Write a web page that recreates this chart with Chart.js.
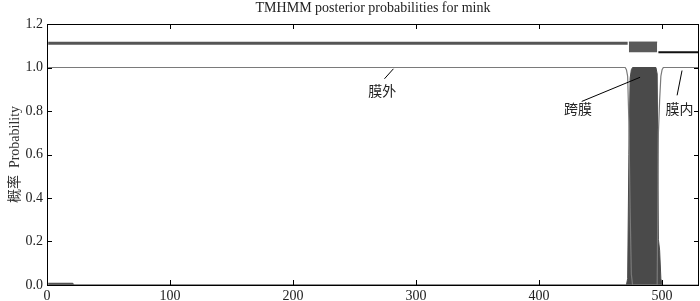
<!DOCTYPE html>
<html>
<head>
<meta charset="utf-8">
<script src="https://cdn.jsdelivr.net/npm/chart.js@4.4.1/dist/chart.umd.min.js"></script>
<style>
  html, body { margin: 0; padding: 0; background: #fff; }
</style>
</head>
<body>
<canvas id="tmhmm" width="700" height="301"></canvas>
<script>
// residue positions and posterior probabilities
const tmPos = [1, 21, 22, 471, 472, 473, 474, 475, 476, 495, 496, 497, 498, 499, 500];
const tmVal = [0.008, 0.008, 0, 0, 0.03, 0.6, 0.95, 0.99, 1.0, 1.0, 0.97, 0.21, 0.16, 0.03, 0];

const outsidePos = [1, 470, 471, 472, 473, 474, 475, 476, 530];
const outsideVal = [1.0, 1.0, 0.99, 0.96, 0.75, 0.35, 0.05, 0, 0];

const insidePos = [1, 496, 497, 498, 499, 500, 501, 530];
const insideVal = [0, 0, 0.7, 0.85, 0.96, 0.99, 1.0, 1.0];

// predicted topology bar along the top
const topOutsidePos = [1, 472];
const topOutsideVal = [1.111, 1.111];
const topHelixPos = [473, 496];
const topHelixVal = [1.117, 1.117];
const topHelixBase = 1.07;
const topInsidePos = [497, 530];
const topInsideVal = [1.07, 1.07];

const xTicks = [0, 100, 200, 300, 400, 500];
const yTicks = [0, 0.2, 0.4, 0.6, 0.8, 1.0, 1.2];

// annotation labels: text position and leader line ends, in data units
const notes = [
    { text: '膜外', x: 272.5, y: 0.885, from: [274.3, 0.948], to: [281.6, 0.994] },
    { text: '跨膜', x: 431.7, y: 0.803, from: [434.7, 0.844], to: [482.1, 0.955] },
    { text: '膜内', x: 514.2, y: 0.803, from: [512.2, 0.872], to: [516.2, 0.986] }
];

const serif = "'Liberation Serif', 'Noto Sans CJK SC', serif";

function toPoints(xs, ys) {
    return xs.map((x, i) => ({ x: x, y: ys[i] }));
}

// box frame and inward ticks like the original plot
const frameTicks = {
    id: 'frameTicks',
    afterDraw(chart) {
        const { ctx, chartArea: a, scales } = chart;
        ctx.save();
        ctx.strokeStyle = '#000';
        ctx.lineWidth = 1;
        ctx.strokeRect(a.left + 0.5, a.top + 0.5, a.right - a.left - 1, a.bottom - a.top);
        ctx.beginPath();
        xTicks.forEach(v => {
            const px = Math.round(scales.x.getPixelForValue(v)) + 0.5;
            ctx.moveTo(px, a.bottom); ctx.lineTo(px, a.bottom - 5);
            ctx.moveTo(px, a.top); ctx.lineTo(px, a.top + 5);
        });
        yTicks.forEach(v => {
            const py = Math.round(scales.y.getPixelForValue(v)) + 0.5;
            ctx.moveTo(a.left, py); ctx.lineTo(a.left + 5, py);
            ctx.moveTo(a.right, py); ctx.lineTo(a.right - 5, py);
        });
        ctx.stroke();
        ctx.restore();
    }
};

const labels = {
    id: 'labels',
    afterDatasetsDraw(chart) {
        const { ctx, scales } = chart;
        ctx.save();
        ctx.strokeStyle = '#000';
        ctx.lineWidth = 1;
        ctx.fillStyle = '#222';
        ctx.font = "14px " + serif;
        ctx.textAlign = 'center';
        ctx.textBaseline = 'middle';
        notes.forEach(n => {
            ctx.beginPath();
            ctx.moveTo(scales.x.getPixelForValue(n.from[0]), scales.y.getPixelForValue(n.from[1]));
            ctx.lineTo(scales.x.getPixelForValue(n.to[0]), scales.y.getPixelForValue(n.to[1]));
            ctx.stroke();
            ctx.fillText(n.text, scales.x.getPixelForValue(n.x), scales.y.getPixelForValue(n.y));
        });
        ctx.restore();
    }
};

new Chart(document.getElementById('tmhmm'), {
    type: 'scatter',
    data: {
        datasets: [
            {
                data: toPoints(outsidePos, outsideVal),
                showLine: true, borderColor: '#7a7a7a', borderWidth: 1.2,
                pointRadius: 0, fill: false, order: 1
            },
            {
                data: toPoints(insidePos, insideVal),
                showLine: true, borderColor: '#7a7a7a', borderWidth: 1.2,
                pointRadius: 0, fill: false, order: 1
            },
            {
                data: toPoints(tmPos, tmVal),
                showLine: true, borderColor: '#4a4a4a', backgroundColor: '#4a4a4a',
                borderWidth: 1, pointRadius: 0, fill: 'origin', order: 2
            },
            {
                data: toPoints(topOutsidePos, topOutsideVal),
                showLine: true, borderColor: '#555', borderWidth: 3,
                pointRadius: 0, fill: false, order: 1
            },
            {
                data: toPoints(topHelixPos, topHelixVal),
                showLine: true, borderColor: '#5a5a5a', backgroundColor: '#5a5a5a',
                borderWidth: 1, pointRadius: 0, fill: { value: topHelixBase }, order: 1
            },
            {
                data: toPoints(topInsidePos, topInsideVal),
                showLine: true, borderColor: '#111', borderWidth: 2,
                pointRadius: 0, fill: false, order: 1
            }
        ]
    },
    options: {
        responsive: false,
        animation: false,
        layout: { padding: { top: 0, right: 1, left: 0, bottom: 0 } },
        plugins: {
            legend: { display: false },
            tooltip: { enabled: false },
            title: {
                display: true,
                fullSize: false,
                text: 'TMHMM posterior probabilities for mink',
                color: '#222',
                font: { family: serif, size: 14, weight: 'normal' },
                padding: { top: 0, bottom: 7.2 }
            }
        },
        scales: {
            x: {
                type: 'linear',
                min: 0, max: 530,
                afterBuildTicks: s => { s.ticks = xTicks.map(v => ({ value: v })); },
                afterFit: s => { s.height = 16; },
                grid: { display: false, drawTicks: false },
                border: { display: false },
                ticks: {
                    color: '#222', padding: 3,
                    font: { family: serif, size: 14 },
                    maxRotation: 0
                }
            },
            y: {
                min: 0, max: 1.2,
                afterBuildTicks: s => { s.ticks = yTicks.map(v => ({ value: v })); },
                afterFit: s => { s.width = 47; },
                grid: { display: false, drawTicks: false },
                border: { display: false },
                title: {
                    display: true,
                    text: '概率  Probability',
                    color: '#333',
                    font: { family: serif, size: 14 },
                    padding: { top: 7, bottom: 0 }
                },
                ticks: {
                    color: '#222', padding: 4,
                    font: { family: serif, size: 14 },
                    callback: v => v.toFixed(1)
                }
            }
        }
    },
    plugins: [frameTicks, labels]
});
</script>
</body>
</html>
